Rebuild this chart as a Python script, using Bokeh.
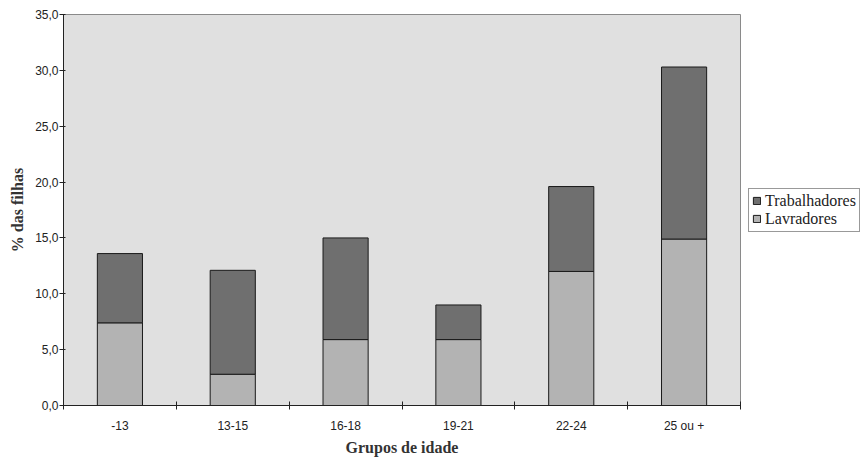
from bokeh.plotting import figure
from bokeh.models import FixedTicker, Legend, LegendItem, ColumnDataSource, Range1d
from bokeh.embed import file_html
from bokeh.resources import INLINE

categories = ["-13", "13-15", "16-18", "19-21", "22-24", "25 ou +"]
lavradores = [7.4, 2.8, 5.9, 5.9, 12.0, 14.9]
trabalhadores = [6.2, 9.3, 9.1, 3.1, 7.6, 15.4]
y_ticks = [0, 5, 10, 15, 20, 25, 30, 35]

xpos = [i + 0.5 for i in range(len(categories))]
src = ColumnDataSource(dict(x=xpos, lav=lavradores, trab=trabalhadores))

p = figure(frame_width=677, frame_height=391, output_backend="svg", toolbar_location=None,
           x_range=Range1d(0, len(categories)), y_range=Range1d(0, 35),
           min_border_left=63, min_border_right=126, min_border_top=14, min_border_bottom=55)

p.background_fill_color = "#e0e0e0"
p.border_fill_color = "white"
p.outline_line_color = "#8a8a8a"
p.outline_line_width = 1
p.xgrid.visible = False
p.ygrid.visible = False

rs = p.vbar_stack(["lav", "trab"], x="x", width=0.4, source=src,
                  fill_color=["#b3b3b3", "#6f6f6f"], line_color="#1a1a1a", line_width=1)

# x axis: labels at category centers, ticks between categories
xa = p.xaxis[0]
xa.ticker = FixedTicker(ticks=xpos, minor_ticks=list(range(len(categories) + 1)))
xa.major_label_overrides = {x: c for x, c in zip(xpos, categories)}
xa.major_tick_in = 0
xa.major_tick_out = 0
xa.minor_tick_in = 4
xa.minor_tick_out = 4
xa.minor_tick_line_color = "#222222"
xa.major_label_standoff = 9
xa.major_label_text_font = "Liberation Sans"
xa.major_label_text_font_size = "12px"
xa.major_label_text_color = "#222222"
xa.axis_line_color = "#222222"
xa.axis_label = "Grupos de idade"
xa.axis_label_text_font = "Liberation Serif"
xa.axis_label_text_font_style = "bold"
xa.axis_label_text_font_size = "16px"
xa.axis_label_text_color = "#333333"
xa.axis_label_standoff = 3

ya = p.yaxis[0]
ya.ticker = FixedTicker(ticks=y_ticks, minor_ticks=[])
ya.major_label_overrides = {v: f"{v:.1f}".replace(".", ",") for v in y_ticks}
ya.major_tick_in = 2
ya.major_tick_out = 4
ya.major_tick_line_color = "#222222"
ya.major_label_standoff = 1
ya.major_label_text_font = "Liberation Sans"
ya.major_label_text_font_size = "12px"
ya.major_label_text_color = "#222222"
ya.axis_line_color = "#222222"
ya.axis_label = "% das filhas"
ya.axis_label_text_font = "Liberation Serif"
ya.axis_label_text_font_style = "bold"
ya.axis_label_text_font_size = "16px"
ya.axis_label_text_color = "#333333"
ya.axis_label_standoff = 6

legend = Legend(items=[LegendItem(label="Trabalhadores", renderers=[rs[1]]),
                       LegendItem(label="Lavradores", renderers=[rs[0]])],
                location="center_left", orientation="vertical")
legend.label_text_font = "Liberation Serif"
legend.label_text_font_size = "16px"
legend.label_text_color = "#222222"
legend.glyph_width = 9
legend.glyph_height = 9
legend.label_standoff = 4
legend.label_height = 18
legend.spacing = 0
legend.padding = 3
legend.margin = 8
legend.border_line_color = "#333333"
legend.border_line_width = 1
legend.background_fill_color = "white"
p.add_layout(legend, "right")

open("out.html", "w").write(file_html(p, INLINE))
